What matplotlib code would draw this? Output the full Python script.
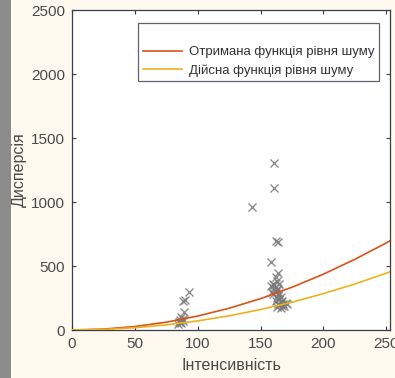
import matplotlib
matplotlib.use("Agg")
import matplotlib.pyplot as plt
from matplotlib.lines import Line2D
from matplotlib.patches import Rectangle

# Curve samples
curve_x = [0, 25, 50, 75, 100, 125, 150, 175, 200, 225, 250, 253]
fitted = [0, 7, 27, 61, 109, 170, 245, 334, 436, 552, 680, 698]
actual = [0, 4, 18, 40, 71, 111, 160, 217, 284, 359, 444, 455]

# Scatter points (intensity, variance)
pts_x = [85, 86, 87, 88, 86, 87, 89, 88, 90, 93, 84, 88,
         161, 161, 143, 162, 164, 158, 164, 162, 163, 160, 158, 161,
         163, 159, 162, 165, 160, 164, 166, 163, 165, 167, 162, 166,
         164, 168, 165, 170, 167, 163, 169, 166, 171, 164, 161, 165]
pts_y = [60, 75, 55, 85, 65, 104, 143, 227, 235, 297, 50, 70,
         1307, 1112, 963, 698, 685, 534, 443, 417, 380, 360, 340, 330,
         320, 300, 295, 290, 280, 270, 260, 250, 240, 230, 225, 215,
         205, 200, 195, 210, 185, 180, 190, 175, 205, 320, 350, 360]

labels = ["Отримана функція рівня шуму", "Дійсна функція рівня шуму"]
xticks = [0, 50, 100, 150, 200, 250]
yticks = [0, 500, 1000, 1500, 2000, 2500]

plt.rcParams['font.family'] = ['Liberation Sans', 'DejaVu Sans']

fig = plt.figure(figsize=(3.95, 3.78), dpi=100)
fig.patch.set_facecolor('#fdf9ee')
fig.add_artist(Rectangle((0, 0), 11/395, 1, transform=fig.transFigure,
                         facecolor='#8c8c8c', edgecolor='none'))

ax = fig.add_axes([72/395, 48/378, 318/395, 320/378])
ax.set_facecolor('white')

ax.plot(pts_x, pts_y, linestyle='none', marker='x', color='#7a7a7a',
        markersize=6, markeredgewidth=1.0, alpha=0.85, zorder=2)
l1, = ax.plot(curve_x, fitted, color='#D95319', lw=1.2, zorder=3)
l2, = ax.plot(curve_x, actual, color='#EDB120', lw=1.2, zorder=3)

ax.set_xlim(0, 253)
ax.set_ylim(0, 2500)
ax.set_xticks(xticks)
ax.set_yticks(yticks)

spine_col = '#3c3c4c'
for s in ax.spines.values():
    s.set_color(spine_col)
    s.set_linewidth(0.9)
ax.tick_params(direction='in', length=3, width=0.8, color=spine_col,
               top=True, right=True, labelsize=11, labelcolor='#4a4a4a', pad=5)

ax.set_xlabel("Інтенсивність", fontsize=11.5, color='#4a4a4a', labelpad=5)
ax.set_ylabel("Дисперсія", fontsize=11.5, color='#4a4a4a', labelpad=3)

blank = Line2D([], [], color='none')
leg = ax.legend([blank, l1, l2], [" ", labels[0], labels[1]],
                loc='upper right', bbox_to_anchor=(0.966, 0.959),
                borderaxespad=0,
                fontsize=9.5, frameon=True, fancybox=False,
                handlelength=3.0, handletextpad=0.5, borderpad=0.35,
                labelspacing=0.45)
leg.get_frame().set_edgecolor(spine_col)
leg.get_frame().set_linewidth(0.9)
for t in leg.get_texts():
    t.set_color('#333333')

fig.savefig("out.png", dpi=100, facecolor=fig.get_facecolor())
